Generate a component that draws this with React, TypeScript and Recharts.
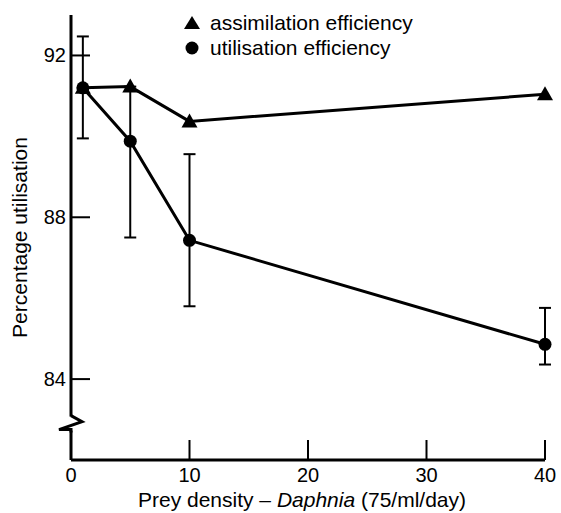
import React from 'react'
import {
  LineChart,
  Line,
  XAxis,
  YAxis,
  ErrorBar,
  ReferenceDot,
  Label,
} from 'recharts'

const density = [1, 5, 10, 40]
const assimilation = [91.2, 91.23, 90.37, 91.04]
const utilisation = [91.2, 89.88, 87.43, 84.86]
// [lower, upper] error for utilisation efficiency
const utilisationErr: [number, number][] = [
  [1.25, 1.27],
  [2.38, 1.35],
  [1.63, 2.13],
  [0.5, 0.9],
]
const xTicks = [0, 10, 20, 30, 40]
const yTicks = [84, 88, 92]
const seriesNames = ['assimilation efficiency', 'utilisation efficiency']

const data = density.map((d, i) => ({
  density: d,
  assim: assimilation[i],
  util: utilisation[i],
  err: utilisationErr[i],
}))

const FONT = '"Liberation Sans", Arial, Helvetica, sans-serif'

function Triangle({ cx, cy, size = 8 }: any) {
  if (cx == null || cy == null) return null
  return (
    <path
      d={`M${cx},${cy - size} L${cx + size},${cy + size * 0.75} L${cx - size},${cy + size * 0.75} Z`}
      fill="#000"
    />
  )
}

function XTick({ x, y, payload }: any) {
  return (
    <g>
      {payload.value !== 0 && <line x1={x} y1={y} x2={x} y2={y - 20} stroke="#000" strokeWidth={2} />}
      <text x={x} y={y + 8} dy="0.71em" textAnchor="middle" fontSize={20} fontFamily={FONT} fill="#000">
        {payload.value}
      </text>
    </g>
  )
}

function YTick({ x, y, payload }: any) {
  return (
    <g>
      <line x1={x} y1={y} x2={x + 19} y2={y} stroke="#000" strokeWidth={2} />
      <text x={x - 5} y={y} dy="0.35em" textAnchor="end" fontSize={20} fontFamily={FONT} fill="#000">
        {payload.value}
      </text>
    </g>
  )
}

function AxisBreak({ cx, cy }: any) {
  return (
    <g>
      <rect x={cx - 3} y={cy - 7} width={6} height={14} fill="#fff" />
      <path
        d={`M${cx},${cy - 8} L${cx + 11},${cy - 2} L${cx - 12},${cy + 6} L${cx},${cy + 6} L${cx},${cy + 9}`}
        fill="none"
        stroke="#000"
        strokeWidth={3}
        strokeLinejoin="miter"
      />
    </g>
  )
}

function LegendBox() {
  const row = { display: 'flex', alignItems: 'center', height: 25 }
  return (
    <div
      style={{
        position: 'absolute',
        left: 184,
        top: 10,
        fontFamily: FONT,
        fontSize: 21,
        color: '#000',
        lineHeight: 1,
        whiteSpace: 'nowrap',
      }}
    >
      <div style={row}>
        <svg width={17} height={16} style={{ marginRight: 9 }}>
          <path d="M8,1 L16,14 L0,14 Z" fill="#000" />
        </svg>
        {seriesNames[0]}
      </div>
      <div style={row}>
        <svg width={17} height={16} style={{ marginRight: 9 }}>
          <circle cx={8} cy={8} r={6.5} fill="#000" />
        </svg>
        {seriesNames[1]}
      </div>
    </div>
  )
}

function XLabel({ viewBox }: any) {
  const { x, width, y } = viewBox
  return (
    <text x={x + width / 2 - 6} y={y + 47} textAnchor="middle" fontSize={21} fontFamily={FONT} fill="#000">
      Prey density – <tspan fontStyle="italic">Daphnia</tspan> (75/ml/day)
    </text>
  )
}

export default function App() {
  return (
    <div style={{ position: 'absolute', left: 0, top: 0, width: 561, height: 513, background: '#fff' }}>
      <LineChart width={561} height={513} data={data} margin={{ top: 15, right: 16, bottom: 0, left: 0 }}>
        <XAxis
          type="number"
          dataKey="density"
          domain={[0, 40]}
          ticks={xTicks}
          height={53}
          tickSize={0}
          tickMargin={0}
          tick={<XTick />}
          tickLine={false}
          axisLine={{ stroke: '#000', strokeWidth: 3 }}
        >
          <Label content={<XLabel />} />
        </XAxis>
        <YAxis
          type="number"
          domain={[82, 93]}
          ticks={yTicks}
          width={71}
          tickSize={0}
          tickMargin={0}
          tick={<YTick />}
          tickLine={false}
          axisLine={{ stroke: '#000', strokeWidth: 3 }}
          label={{
            value: 'Percentage utilisation',
            angle: -90,
            position: 'insideLeft',
            dx: 15,
            style: { fontSize: 21, fontFamily: FONT, fill: '#000', textAnchor: 'middle' },
          }}
        />
        <ReferenceDot x={0} y={82.9} r={0} ifOverflow="visible" shape={<AxisBreak />} />
        <Line
          dataKey="util"
          stroke="#000"
          strokeWidth={3}
          dot={{ r: 6.5, fill: '#000', stroke: '#000', strokeWidth: 0 }}
          isAnimationActive={false}
        >
          <ErrorBar dataKey="err" direction="y" width={6} stroke="#000" strokeWidth={2} />
        </Line>
        <Line
          dataKey="assim"
          stroke="#000"
          strokeWidth={3}
          dot={<Triangle size={8} />}
          isAnimationActive={false}
        />
      </LineChart>
      <LegendBox />
    </div>
  )
}
